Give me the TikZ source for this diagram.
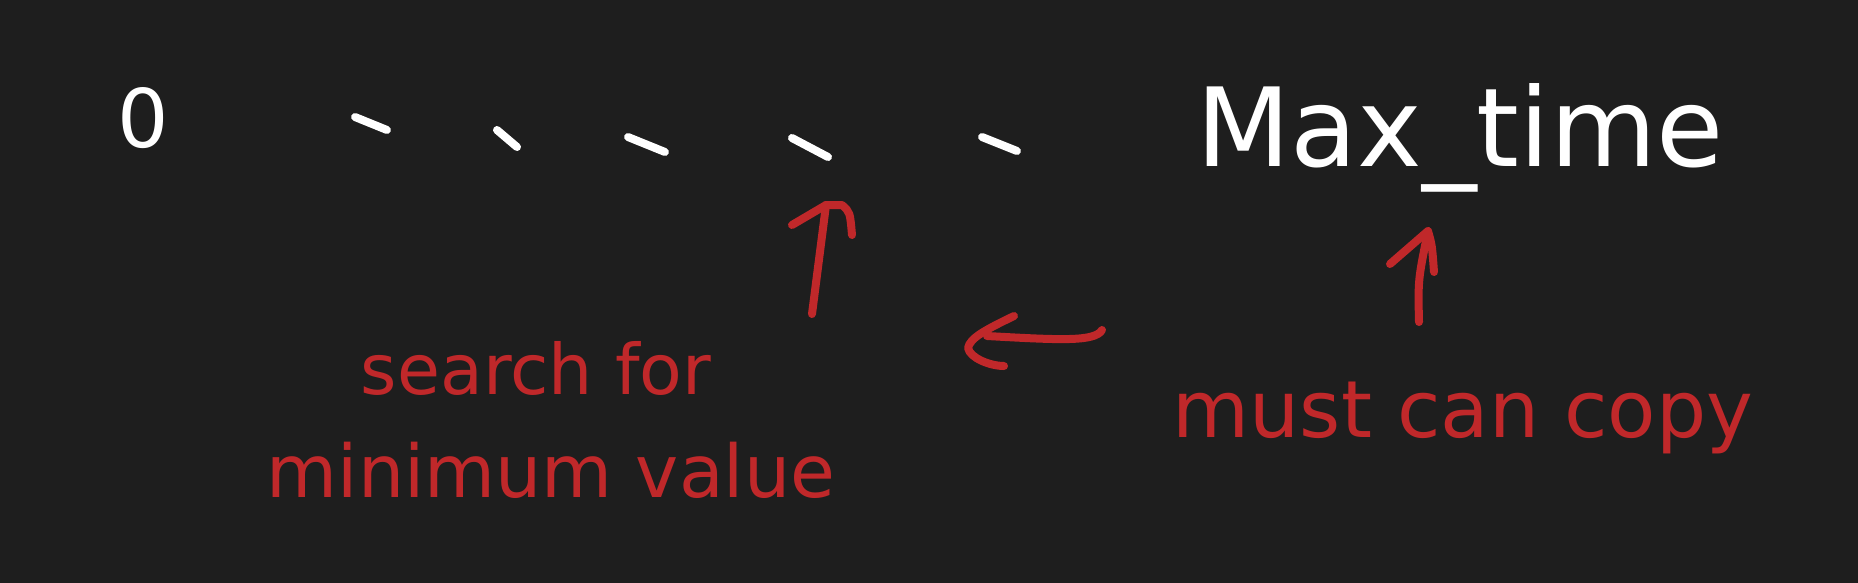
\documentclass[tikz,border=0pt]{standalone}
\usepackage{fontspec}
\usepackage{graphicx}
\setmainfont{DejaVu Sans}
\definecolor{bg}{HTML}{1E1E1E}
\definecolor{ink}{HTML}{C0282A}
\begin{document}
\begin{tikzpicture}[x=1pt,y=-1pt,
  chalk/.style={draw=white,line width=8pt,line cap=round},
  redpen/.style={draw=ink,line width=8pt,line cap=round,line join=round},
  wtext/.style={text=white,inner sep=0pt,anchor=center},
  rtext/.style={text=ink,inner sep=0pt,anchor=center}]
\useasboundingbox (0,0) rectangle (1858,582);
\fill[bg] (-10,-10) rectangle (1868,592);
% texts
\node[wtext] (zero) at (143,118) {\resizebox{!}{60pt}{0}};
\node[wtext] (max) at (1460,138) {\resizebox{527pt}{!}{Max\_time}};
\node[rtext] (search) at (536,368) {\resizebox{350pt}{!}{search for}};
\node[rtext] (minval) at (551,470) {\resizebox{568pt}{!}{minimum value}};
\node[rtext] (must) at (1463,418) {\resizebox{580pt}{!}{must can copy}};
% dashes
\coordinate (d1a) at (355,117); \coordinate (d1b) at (387,130);
\coordinate (d2a) at (497,130); \coordinate (d2b) at (517,147);
\coordinate (d3a) at (628,137); \coordinate (d3b) at (665,152);
\coordinate (d4a) at (792,138); \coordinate (d4b) at (828,157);
\coordinate (d5a) at (982,137); \coordinate (d5b) at (1017,151);
\foreach \i in {1,...,5} {\draw[chalk] (d\i a) -- (d\i b);}
% arrow 1 (up to dash 4)
\coordinate (a1s) at (812,314); \coordinate (a1t) at (826,205);
\coordinate (a1l) at (792,225); \coordinate (a1r) at (852,235);
\draw[redpen] (a1s) -- (a1t);
\draw[redpen] (a1l) -- (a1t) -- (842,205) .. controls (850,212) .. (a1r);
% arrow 2 (up to Max_time)
\coordinate (a2s) at (1419,322); \coordinate (a2t) at (1428,231);
\draw[redpen] (a2s) .. controls (1418,280) .. (a2t);
\draw[redpen] (1390,264) -- (a2t) .. controls (1432,245) .. (1434,272);
% left arrow
\coordinate (a3s) at (1102,330); \coordinate (a3t) at (987,336);
\draw[redpen] (a3s) .. controls (1095,342) and (1060,340) .. (a3t);
\draw[redpen] (1014,316) .. controls (985,330) and (970,338) .. (968,348)
  .. controls (970,358) and (990,366) .. (1004,366);
\end{tikzpicture}
\end{document}
